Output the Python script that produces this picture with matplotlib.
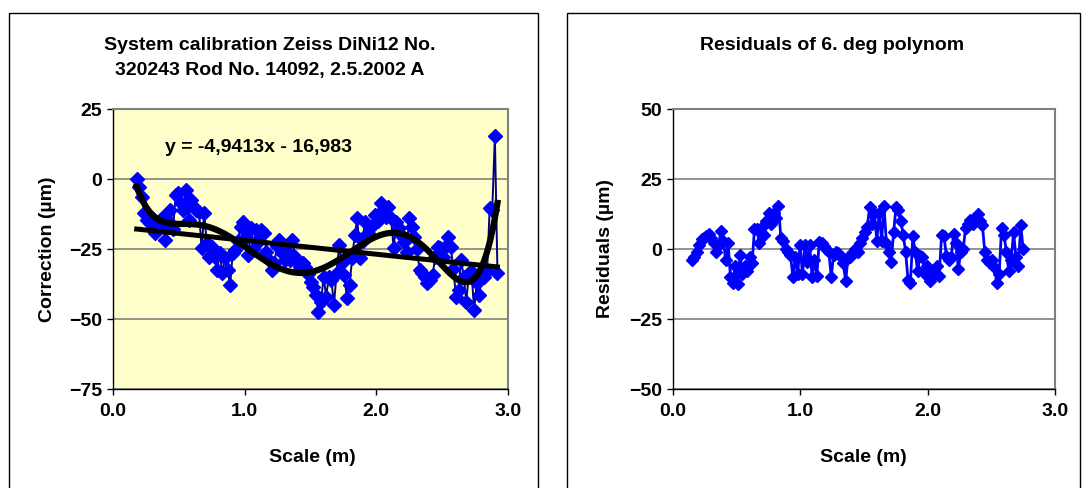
import numpy as np
import matplotlib
matplotlib.use('Agg')
import matplotlib.pyplot as plt
from matplotlib.patches import Rectangle
from matplotlib.ticker import FormatStrFormatter

plt.rcParams['font.family'] = ['Liberation Sans', 'DejaVu Sans']
plt.rcParams['font.weight'] = 'bold'

# ---------------- data ----------------
left_title_lines = ["System calibration Zeiss DiNi12 No.",
                    "320243 Rod No. 14092, 2.5.2002 A"]
right_title = "Residuals of 6. deg polynom"
left_ylabel = "Correction (µm)"
right_ylabel = "Residuals (µm)"
xlabel = "Scale (m)"
x_ticks = [0.0, 1.0, 2.0, 3.0]
left_yticks = [-75, -50, -25, 0, 25]
right_yticks = [-50, -25, 0, 25, 50]

trend_slope = -4.9413
trend_intercept = -16.983
trend_label = "y = -4,9413x - 16,983"
poly_degree = 6

left_scale_first, left_scale_last = 0.18, 2.92
correction = [
    0, -3, -6.3, -12.3, -14.6, -15.8, -14, -19.4, -16, -17,
    -13.5, -21.8, -15, -11, -18, -5.7, -5.1, -8.7, -11, -3.9,
    -14.6, -7.5, -9.9, -11, -11.7, -24.8, -12.3, -23, -27.7, -24.2,
    -28, -32.5, -26.5, -33.7, -28.3, -32.5, -37.9, -26.5, -25.4, -22,
    -17, -15.2, -20.6, -27.1, -17.6, -25, -18.2, -22, -18.2, -19.4,
    -26, -29, -32.5, -30.1, -24, -21.8, -26.5, -28.9, -26, -28.9,
    -21.8, -28, -30.1, -31.3, -30, -31.3, -34, -36.7, -38.5, -41.4,
    -47.4, -44, -34.9, -42, -35, -36, -45, -33.7, -23.6, -30,
    -34.3, -42.6, -37.9, -28.3, -20, -14, -28.3, -22, -15.2, -19.4,
    -17, -16.4, -12.9, -15, -8.7, -11, -13.5, -9.9, -14, -24.8,
    -15.2, -17.6, -20, -22.4, -26, -14, -17, -20.6, -25, -32.5,
    -33.7, -35, -37.2, -36, -34.3, -28, -24.2, -24.8, -27.7, -24,
    -20.6, -24.2, -32, -42, -39.6, -28.9, -35, -43.8, -33.7, -33.1,
    -46.8, -37.2, -41.4, -34.9, -34.9, -33, -10.5, -11, 15.5, -33.5,
]

right_scale_first, right_scale_last = 0.15, 2.75
residuals = [
    -4, -3, -1, 1.5, 3.5, 4, 4.5, 5.5, 4, 2,
    -1, 1, 6.5, 3, -4, 2, -10, -12, -6, -12.5,
    -2, -9, -6, -8, -3, -5, 7, 7, 2, 8,
    5, 10, 13, 9, 13, 11, 15.5, 4, 3, 0,
    -1, -2, -10, -3, -9, 1.5, -9, 1.5, -4.5, 1.5,
    -10, -4, -9.5, 2.5, 2, 1, 0, -1, -10, -2,
    -1, -1.5, -3, -5, -11.5, -3, -3, -1, 0, -1,
    2, 4, 6, 8, 15, 9, 13, 3, 13, 3,
    15.5, 2, -1, -4.5, 6, 15, 14, 10, 5, -1,
    -11, -12, 4.5, -1, -8, -2.5, -3, -9, -6, -11.5,
    -8.5, -9, -6, -9.5, 5, 4.5, -2.5, -4, -3, 5.5,
    2, -7, -1, 0, 7.5, 9, 10.5, 9, 11, 12.5,
    10, 8.5, -1, -4, -5, -4, -6.5, -12, -9, 7.5,
    5, -1, -8, -4, 6, -3, -6, 8.5, 0,
]

x_left = np.linspace(left_scale_first, left_scale_last, len(correction))
x_right = np.linspace(right_scale_first, right_scale_last, len(residuals))

# ---------------- figure ----------------
W, H = 1084, 488
FS = 14
fig = plt.figure(figsize=(W / 100, H / 100), dpi=100)
fig.patch.set_facecolor('white')

# chart panel borders
for (x0, x1) in [(9, 538), (567, 1080)]:
    fig.patches.append(Rectangle((x0 / W, -0.05), (x1 - x0) / W, 1.05 - 13 / H,
                                 transform=fig.transFigure, fill=False,
                                 edgecolor='black', linewidth=1.0))


def style_axes(ax, face, yticks):
    ax.set_facecolor(face)
    ax.set_xlim(0, 3)
    ax.set_ylim(yticks[0], yticks[-1])
    ax.set_xticks(x_ticks)
    ax.set_yticks(yticks)
    ax.xaxis.set_major_formatter(FormatStrFormatter('%.1f'))
    ax.grid(axis='y', color='#808080', linewidth=1.2, zorder=0)
    ax.set_axisbelow(True)
    for s in ['top', 'right']:
        ax.spines[s].set_color('#808080')
        ax.spines[s].set_linewidth(1.5)
    for s in ['left', 'bottom']:
        ax.spines[s].set_color('black')
        ax.spines[s].set_linewidth(1.0)
    ax.tick_params(direction='out', length=4, width=1, labelsize=FS,
                   colors='black')
    ax.tick_params(axis='x', pad=6)
    ax.tick_params(axis='y', pad=4)
    for lab in ax.get_xticklabels() + ax.get_yticklabels():
        lab.set_fontweight('bold')


# left chart
axL = fig.add_axes([113 / W, 1 - 389 / H, (508 - 113) / W, 280 / H])
style_axes(axL, '#FFFFCC', left_yticks)
axL.plot(x_left, correction, color='#000080', linewidth=1.4, marker='D',
         markersize=7, markerfacecolor='#0000FF', markeredgecolor='#0000FF',
         zorder=3)
xt = np.array([x_left[0], x_left[-1]])
axL.plot(xt, trend_slope * xt + trend_intercept, color='black', linewidth=3.6,
         zorder=4)
coef = np.polyfit(x_left, correction, poly_degree)
xs = np.linspace(x_left[0], x_left[-1], 300)
axL.plot(xs, np.polyval(coef, xs), color='black', linewidth=4.5, zorder=5)
axL.text(0.395, 11.1, trend_label, fontsize=FS, fontweight='bold',
         ha='left', va='center', zorder=6)

# right chart
axR = fig.add_axes([673 / W, 1 - 389 / H, (1055 - 673) / W, 280 / H])
style_axes(axR, 'white', right_yticks)
axR.plot(x_right, residuals, color='#0000FF', linewidth=2, marker='D',
         markersize=6.5, markerfacecolor='#0000FF', markeredgecolor='#0000FF',
         zorder=3)

# titles and labels
for line, ypx in zip(left_title_lines, [46, 71]):
    fig.text(270 / W, 1 - ypx / H, line, ha='center', va='center',
             fontsize=FS, fontweight='bold')
fig.text(832 / W, 1 - 45 / H, right_title, ha='center', va='center',
         fontsize=FS, fontweight='bold')
fig.text(48 / W, 1 - 249 / H, left_ylabel, rotation=90, ha='center',
         va='center', fontsize=FS, fontweight='bold')
fig.text(605 / W, 1 - 249 / H, right_ylabel, rotation=90, ha='center',
         va='center', fontsize=FS, fontweight='bold')
fig.text(312 / W, 1 - 458 / H, xlabel, ha='center', va='center',
         fontsize=FS, fontweight='bold')
fig.text(863 / W, 1 - 458 / H, xlabel, ha='center', va='center',
         fontsize=FS, fontweight='bold')

fig.savefig('out.png', dpi=100)
